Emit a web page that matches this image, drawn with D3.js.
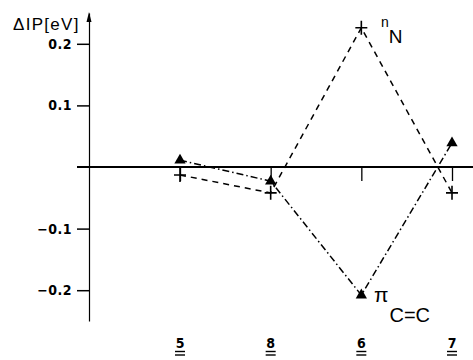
<!DOCTYPE html>
<html>
<head>
<meta charset="utf-8">
<script src="https://cdn.jsdelivr.net/npm/d3@7"></script>
<style>
  body { margin: 0; background: #fff; }
  svg { display: block; }
  .tk text { font-family: "DejaVu Sans Condensed", "DejaVu Sans", sans-serif; font-weight: bold; font-size: 14px; }
</style>
</head>
<body>
<div id="chart"></div>
<script>
// compounds along the x axis, in the order of the figure
var compounds = ["5", "8", "6", "7"];
// shift of ionisation potential, eV
var nN = [-0.013, -0.042, 0.226, -0.042];
var piCC = [0.011, -0.023, -0.208, 0.039];
var yTicks = [0.2, 0.1, -0.1, -0.2];

var W = 473, H = 360;
var svg = d3.select("#chart").append("svg")
    .attr("width", W)
    .attr("height", H);

var x = d3.scalePoint().domain(compounds).range([180, 452]);
var y = d3.scaleLinear().domain([-0.25, 0.25]).range([321, 13]);
var x0 = 89;

// y axis with ticks to the left
var yAxis = d3.axisLeft(y)
    .tickValues(yTicks)
    .tickSize(12)
    .tickPadding(5)
    .tickSizeOuter(0)
    .tickFormat(function(d){ return d3.format(".1f")(d).replace("-", "\u2212 "); });

var gy = svg.append("g")
    .attr("class", "tk")
    .attr("transform", "translate(" + x0 + ",0)")
    .call(yAxis);
gy.select(".domain").attr("stroke-width", 1.2);
gy.selectAll(".tick line").attr("stroke-width", 1.5);
gy.selectAll(".tick text").attr("letter-spacing", 0.5);

// arrow head at the top of the y axis
svg.append("path")
    .attr("d", "M" + x0 + "," + (y.range()[1] - 1) + " L" + (x0 + 2.5) + "," + (y.range()[1] + 9) + " L" + (x0 - 2.5) + "," + (y.range()[1] + 9) + " Z")
    .attr("fill", "#000");

svg.append("text")
    .attr("x", 13)
    .attr("y", 30)
    .attr("font-family", "Liberation Sans, sans-serif")
    .attr("font-size", 17)
    .attr("letter-spacing", 1.3)
    .text("\u0394IP[eV]");

// zero line
svg.append("line")
    .attr("x1", 77).attr("x2", W)
    .attr("y1", y(0)).attr("y2", y(0))
    .attr("stroke", "#000")
    .attr("stroke-width", 2);

// ticks under the zero line
var gx = svg.append("g")
    .attr("transform", "translate(0," + y(0) + ")")
    .call(d3.axisBottom(x).tickSize(14).tickFormat(""));
gx.select(".domain").remove();
gx.selectAll(".tick line").attr("stroke-width", 1.3);

// compound labels, doubly underlined
var lab = svg.selectAll(".cmp")
    .data(compounds)
    .enter()
    .append("g")
    .attr("class", "cmp")
    .attr("transform", function(d){ return "translate(" + x(d) + ",348)"; });
lab.append("text")
    .attr("text-anchor", "middle")
    .attr("font-family", "DejaVu Sans Condensed, sans-serif")
    .attr("font-weight", "bold")
    .attr("font-size", 14)
    .text(function(d){ return d; });
[3.5, 7].forEach(function(dy){
    lab.append("line")
        .attr("x1", -5).attr("x2", 5)
        .attr("y1", dy).attr("y2", dy)
        .attr("stroke", "#000")
        .attr("stroke-width", 1.4);
});

// lines
var line = d3.line()
    .x(function(d, i){ return x(compounds[i]); })
    .y(function(d){ return y(d); });

svg.append("path")
    .datum(nN)
    .attr("d", line)
    .attr("fill", "none")
    .attr("stroke", "#000")
    .attr("stroke-width", 1.5)
    .attr("stroke-dasharray", "6,5");

svg.append("path")
    .datum(piCC)
    .attr("d", line)
    .attr("fill", "none")
    .attr("stroke", "#000")
    .attr("stroke-width", 1.5)
    .attr("stroke-dasharray", "7,3,1.5,3");

// markers
svg.selectAll(".plus")
    .data(nN)
    .enter()
    .append("path")
    .attr("class", "plus")
    .attr("d", function(d, i){
        var cx = x(compounds[i]), cy = y(d);
        return "M" + (cx - 6) + "," + cy + "H" + (cx + 6) + "M" + cx + "," + (cy - 7) + "V" + (cy + 7);
    })
    .attr("stroke", "#000")
    .attr("stroke-width", 1.6);

svg.selectAll(".tri")
    .data(piCC)
    .enter()
    .append("path")
    .attr("class", "tri")
    .attr("transform", function(d, i){ return "translate(" + x(compounds[i]) + "," + y(d) + ")"; })
    .attr("d", d3.symbol().type(d3.symbolTriangle).size(55))
    .attr("fill", "#000");

// series labels
var t1 = svg.append("text")
    .attr("font-family", "Liberation Sans, sans-serif")
    .attr("x", 381).attr("y", 27);
t1.append("tspan").attr("font-size", 14).text("n");
t1.append("tspan").attr("font-size", 19).attr("dy", 16).text("N");

var t2 = svg.append("text")
    .attr("font-family", "Liberation Sans, sans-serif")
    .attr("x", 374).attr("y", 302);
t2.append("tspan").attr("font-size", 21).text("\u03c0");
t2.append("tspan").attr("font-size", 20).attr("dy", 20).attr("dx", 1).text("C=C");
</script>
</body>
</html>
